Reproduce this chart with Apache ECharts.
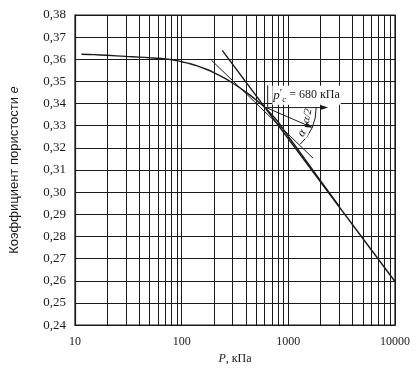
<!DOCTYPE html>
<html><head><meta charset="utf-8">
<script src="https://cdn.jsdelivr.net/npm/echarts@6/dist/echarts.min.js"></script>
<style>html,body{margin:0;padding:0;background:#fff}#c{width:420px;height:370px}</style>
</head><body><div id="c"></div>
<script>
// e - log P compression curve (Casagrande construction)
const curveP = [11.5, 15, 20, 30, 40, 50, 60, 70, 80, 90, 100, 120, 140, 170, 200, 250, 300, 400, 500, 576, 700, 800, 1000, 1500, 2000, 3000];
const curveE = [0.3623, 0.3621, 0.3618, 0.3613, 0.3610, 0.3607, 0.3605, 0.3602, 0.3598, 0.3594, 0.3589, 0.3580, 0.3570, 0.3555, 0.3540, 0.3516, 0.3493, 0.3452, 0.3416, 0.3391, 0.3350, 0.3318, 0.3252, 0.3136, 0.3052, 0.2936];
const virginP = [240, 10000];
const virginE = [0.364, 0.2597];
const tangentP = [190, 1710];
const tangentE = [0.3596, 0.3153];
const horizP = [620, 2170];
const horizE = [0.3382, 0.3382];
const bisectP = [620, 1570];
const bisectE = [0.3382, 0.3298];
const pcMarkP = [640, 640];
const pcMarkE = [0.3482, 0.3385];
const labelPos = [708, 0.3438];
const yTicks = [0.24,0.25,0.26,0.27,0.28,0.29,0.30,0.31,0.32,0.33,0.34,0.35,0.36,0.37,0.38];
const xTicks = [10, 100, 1000, 10000];

const minorX = [];
[10, 100, 1000].forEach(d => { for (let k = 2; k <= 9; k++) minorX.push(k * d); });

const zip = (a, b) => a.map((v, i) => [v, b[i]]);
const ink = '#1a1a1a';
const serif = '"Liberation Serif","DejaVu Serif",serif';

function lineSeries(P, E, w, endArrow, rot) {
  const d = zip(P, E).map((v, i) => {
    if (endArrow && i === P.length - 1) return { value: v, symbol: 'triangle', symbolSize: [5, 8], symbolRotate: rot, itemStyle: { color: ink } };
    return { value: v, symbol: 'none' };
  });
  return { type: 'line', data: d, showSymbol: true, silent: true, z: 5,
    lineStyle: { color: ink, width: w }, animation: false };
}

const chart = echarts.init(document.getElementById('c'), null, { renderer: 'canvas' });
chart.setOption({
  animation: false,
  backgroundColor: '#fff',
  grid: { left: 74, right: 25, top: 15, bottom: 34, show: true, borderColor: ink, borderWidth: 1.2 },
  xAxis: {
    type: 'log', logBase: 10, min: xTicks[0], max: xTicks[xTicks.length - 1],
    name: '{i|P}, кПа', nameLocation: 'middle', nameGap: 11,
    nameTextStyle: { fontFamily: serif, fontSize: 12, color: ink, rich: { i: { fontFamily: serif, fontStyle: 'italic', fontSize: 12, color: ink } } },
    axisLine: { lineStyle: { color: ink, width: 1.2 } }, axisTick: { show: false },
    axisLabel: { margin: 11, fontFamily: serif, fontSize: 12, color: ink, formatter: v => String(Math.round(v)) },
    splitLine: { show: true, lineStyle: { color: ink, width: 1 } }
  },
  yAxis: {
    type: 'value', min: yTicks[0], max: yTicks[yTicks.length - 1], interval: 0.01,
    name: '{a|Коэффициент пористости }{e|e}', nameLocation: 'middle', nameRotate: 90, nameGap: 54,
    nameTextStyle: { rich: {
      a: { fontFamily: 'Liberation Sans, Arial, sans-serif', fontSize: 13, color: ink },
      e: { fontFamily: 'Liberation Sans, Arial, sans-serif', fontStyle: 'italic', fontSize: 13, color: ink } } },
    axisLine: { lineStyle: { color: ink, width: 1.2 } }, axisTick: { show: false },
    axisLabel: { margin: 9, fontFamily: serif, fontSize: 13, color: ink, padding: [4, 0, 0, 0],
      formatter: v => v.toFixed(2).replace('.', ',') },
    splitLine: { show: true, lineStyle: { color: ink, width: 1 } }
  },
  series: [
    { type: 'line', data: [], silent: true, z: 1,
      markLine: { silent: true, symbol: 'none', label: { show: false }, animation: false,
        lineStyle: { color: ink, width: 1, type: 'solid' },
        data: minorX.map(v => ({ xAxis: v })) } },
    { type: 'line', data: zip(curveP, curveE), smooth: 0.35, showSymbol: false, silent: true, z: 6,
      lineStyle: { color: ink, width: 1.4 } },
    lineSeries(virginP, virginE, 1.4, false, 0),
    lineSeries(tangentP, tangentE, 1, false, 0),
    lineSeries(horizP, horizE, 1, true, -90),
    lineSeries(bisectP, bisectE, 1, true, -113),
    lineSeries(pcMarkP, pcMarkE, 1, false, 0),
    { type: 'custom', silent: true, z: 8,
      data: [[horizP[0], horizE[0]]],
      renderItem: function (params, api) {
        const c = api.coord([horizP[0], horizE[0]]);
        const t0 = api.coord([tangentP[0], tangentE[0]]);
        const t1 = api.coord([tangentP[1], tangentE[1]]);
        const th = Math.atan2(t1[1] - t0[1], t1[0] - t0[0]);
        const r = 50;
        const lp = api.coord(labelPos);
        const a1 = 0.2, a2 = 0.62;
        return { type: 'group', children: [
          { type: 'arc', shape: { cx: c[0], cy: c[1], r: r, startAngle: 0, endAngle: th + 0.06, clockwise: true },
            style: { stroke: ink, lineWidth: 1, fill: null } },
          { type: 'text', x: c[0] + 42 * Math.cos(a1), y: c[1] + 42 * Math.sin(a1), rotation: Math.PI / 2 - 0.2,
            style: { text: 'α/2', font: 'italic 11px ' + serif, fill: ink, align: 'center', verticalAlign: 'middle',
              backgroundColor: '#fff' } },
          { type: 'text', x: c[0] + 44 * Math.cos(a2), y: c[1] + 44 * Math.sin(a2), rotation: Math.PI / 2 - 0.55,
            style: { text: 'α', font: 'italic 12px ' + serif, fill: ink, align: 'center', verticalAlign: 'middle',
              backgroundColor: '#fff' } },
          { type: 'text', x: lp[0], y: lp[1],
            style: { text: '{p|p}{s|′}{c|c} = 680 кПа', fill: ink, align: 'left', verticalAlign: 'middle',
              font: '12px ' + serif, backgroundColor: '#fff', padding: [1, 1, 1, 1],
              rich: { p: { fontFamily: serif, fontStyle: 'italic', fontSize: 13, fill: ink },
                      s: { fontFamily: serif, fontSize: 11, fill: ink, padding: [0, 0, 4, 0] },
                      c: { fontFamily: serif, fontStyle: 'italic', fontSize: 9, fill: ink, padding: [8, 0, 0, 0] } } } }
        ] };
      } }
  ]
});
</script></body></html>
